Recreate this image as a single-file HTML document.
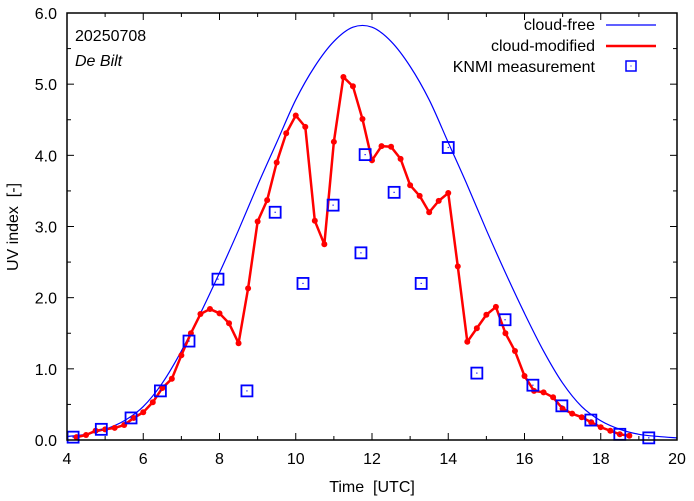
<!DOCTYPE html>
<html><head><meta charset="utf-8"><style>
html,body{margin:0;padding:0;background:#fff;}
svg{display:block;font-family:"Liberation Sans",sans-serif;}
</style></head><body>
<svg id="chart" width="694" height="501" viewBox="0 0 694 501" xmlns="http://www.w3.org/2000/svg">
<rect x="0" y="0" width="694" height="501" fill="#fff"/>
<g id="grid-ticks"></g>
<g id="series"></g>
<rect x="67" y="13" width="610" height="427" fill="none" stroke="#000" stroke-width="1.5"/>
<text x="75" y="41" font-size="16">20250708</text>
<text x="75" y="66" font-size="16" font-style="italic">De Bilt</text>
<text x="372" y="492" font-size="16" text-anchor="middle">Time&#160;&#160;[UTC]</text>
<text x="0" y="0" font-size="16" text-anchor="middle" transform="translate(18,227) rotate(-90)">UV index&#160;&#160;[-]</text>
<g>
<text x="595" y="30" font-size="16" text-anchor="end">cloud-free</text>
<line x1="606" y1="25" x2="656" y2="25" stroke="#0000ff" stroke-width="1.2"/>
<text x="595" y="51" font-size="16" text-anchor="end">cloud-modified</text>
<line x1="606" y1="46" x2="656" y2="46" stroke="#ff0000" stroke-width="2.5"/>
<text x="595" y="72" font-size="16" text-anchor="end">KNMI measurement</text>
<rect x="626" y="61" width="10" height="10" fill="none" stroke="#0000ff" stroke-width="1.5"/>
<rect x="630.5" y="65.5" width="1" height="1" fill="#0000ff"/>
</g>
</svg>
<script>
const xTicks = [4,6,8,10,12,14,16,18,20];
const yTicks = [0,1,2,3,4,5,6];
const yTickLabels = ["0.0","1.0","2.0","3.0","4.0","5.0","6.0"];
const clearTimes = [4,4.5,5,5.5,6,6.5,7,7.5,8,8.5,9,9.5,10,10.5,11,11.5,12,12.5,13,13.5,14,14.5,15,15.5,16,16.5,17,17.5,18,18.5,19,19.5,20];
const clearValues = [0.05,0.08,0.15,0.27,0.47,0.80,1.25,1.78,2.35,2.95,3.58,4.18,4.78,5.25,5.60,5.80,5.80,5.60,5.25,4.78,4.18,3.58,2.95,2.35,1.78,1.25,0.80,0.47,0.27,0.15,0.08,0.05,0.03];
const modStart = 4.25;
const modStep = 0.25;
const modValues = [0.04,0.07,0.13,0.15,0.17,0.21,0.31,0.39,0.53,0.73,0.86,1.19,1.50,1.77,1.84,1.78,1.64,1.36,2.13,3.07,3.37,3.90,4.31,4.56,4.40,3.08,2.75,4.19,5.10,4.97,4.51,3.93,4.13,4.12,3.95,3.58,3.43,3.20,3.36,3.47,2.44,1.38,1.57,1.76,1.87,1.50,1.25,0.90,0.69,0.67,0.60,0.44,0.37,0.32,0.25,0.18,0.13,0.08,0.06];
const measTimes = [4.16,4.9,5.68,6.45,7.2,7.96,8.72,9.46,10.19,10.98,11.71,11.82,12.58,13.29,14.0,14.75,15.49,16.22,16.98,17.74,18.5,19.26];
const measValues = [0.04,0.15,0.31,0.69,1.39,2.26,0.69,3.20,2.20,3.30,2.63,4.01,3.48,2.20,4.11,0.94,1.69,0.77,0.48,0.28,0.08,0.03];

const NS="http://www.w3.org/2000/svg";
const X0=67,X1=677,Y0=440,Y1=13;
function xs(t){return X0+(t-4)/16*(X1-X0);}
function ys(v){return Y0-v/6*(Y0-Y1);}
function mk(tag,attrs,parent){const e=document.createElementNS(NS,tag);for(const k in attrs)e.setAttribute(k,attrs[k]);parent.appendChild(e);return e;}
const tg=document.getElementById('grid-ticks');
const sg=document.getElementById('series');
for(let t=4;t<=20;t+=1){
  const major=(t%2===0);const L=major?7:4;
  const a=mk('line',{x1:xs(t),x2:xs(t),y1:Y0,y2:Y0-L,stroke:'#000','stroke-width':1},tg);
  
  
  const b=mk('line',{x1:xs(t),x2:xs(t),y1:Y1,y2:Y1+L,stroke:'#000','stroke-width':1},tg);
  
  
}
xTicks.forEach(t=>{
  const tx=mk('text',{x:xs(t),y:Y0+24,'font-size':16,'text-anchor':'middle'},tg);
  tx.textContent=String(t);
  
  
});
for(let v=0;v<=6;v+=0.5){
  const major=(Math.abs(v-Math.round(v))<1e-9);const L=major?7:4;
  const a=mk('line',{x1:X0,x2:X0+L,y1:ys(v),y2:ys(v),stroke:'#000','stroke-width':1},tg);
  
  
  const b=mk('line',{x1:X1,x2:X1-L,y1:ys(v),y2:ys(v),stroke:'#000','stroke-width':1},tg);
  
  
}
yTicks.forEach((v,i)=>{
  const tx=mk('text',{x:X0-10,y:ys(v)+6,'font-size':16,'text-anchor':'end'},tg);
  tx.textContent=yTickLabels[i];
  
  
});
const cp=clearTimes.map((t,i)=>[xs(t),ys(clearValues[i])]);
let d='M'+cp[0][0]+','+cp[0][1];
for(let i=0;i<cp.length-1;i++){
  const p0=cp[Math.max(0,i-1)],p1=cp[i],p2=cp[i+1],p3=cp[Math.min(cp.length-1,i+2)];
  const c1=[p1[0]+(p2[0]-p0[0])/6,p1[1]+(p2[1]-p0[1])/6];
  const c2=[p2[0]-(p3[0]-p1[0])/6,p2[1]-(p3[1]-p1[1])/6];
  d+=' C'+c1[0]+','+c1[1]+' '+c2[0]+','+c2[1]+' '+p2[0]+','+p2[1];
}
const cf=mk('path',{d:d,fill:'none',stroke:'#0000ff','stroke-width':1.2},sg);


const mp=modValues.map((v,i)=>xs(modStart+i*modStep)+','+ys(v)).join(' ');
const ml=mk('polyline',{points:mp,fill:'none',stroke:'#ff0000','stroke-width':2.5,'stroke-linejoin':'round'},sg);


modValues.forEach((v,i)=>{
  const c=mk('circle',{cx:xs(modStart+i*modStep),cy:ys(v),r:3,fill:'#ff0000'},sg);
  
  
});
measTimes.forEach((t,i)=>{
  const x=xs(t),y=ys(measValues[i]);
  const r=mk('rect',{x:x-5.5,y:y-5.5,width:11,height:11,fill:'none',stroke:'#0000ff','stroke-width':1.8},sg);
  
  
  const dd=mk('rect',{x:x-0.6,y:y-0.6,width:1.2,height:1.2,fill:'#0000ff'},sg);
  
  
});
</script>
</body></html>
